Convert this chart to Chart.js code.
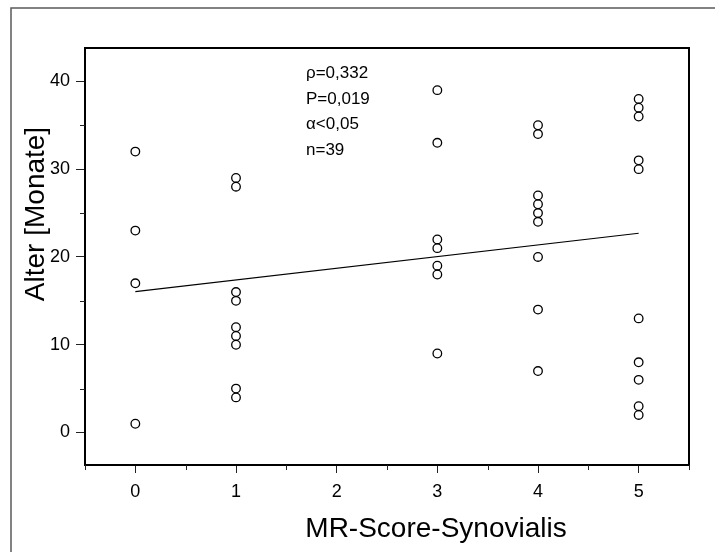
<!DOCTYPE html>
<html>
<head>
<meta charset="utf-8">
<title>Alter vs. MR-Score-Synovialis</title>
<script src="https://cdn.jsdelivr.net/npm/chart.js@4.4.1/dist/chart.umd.min.js"></script>
<style>
  html, body { margin: 0; padding: 0; background: #fff; }
  #wrap { width: 715px; height: 552px; position: relative; }
</style>
</head>
<body>
<div id="wrap"><canvas id="scatterCanvas"></canvas></div>
<script>
// MR score per patient (x) and age in months (y)
const scoreX = [
    0, 0, 0, 0,
    1, 1, 1, 1, 1, 1, 1, 1, 1,
    3, 3, 3, 3, 3, 3, 3,
    4, 4, 4, 4, 4, 4, 4, 4, 4,
    5, 5, 5, 5, 5, 5, 5, 5, 5, 5
];
const ageMonths = [
    32, 23, 17, 1,
    29, 28, 16, 15, 12, 11, 10, 5, 4,
    39, 33, 22, 21, 19, 18, 9,
    35, 34, 27, 26, 25, 24, 20, 14, 7,
    38, 37, 36, 31, 30, 13, 8, 6, 3, 2
];

// regression line end points
const fitX = [0, 5];
const fitY = [16.04, 22.7];

// axis ticks
const xTicks = [0, 1, 2, 3, 4, 5];
const xMinorTicks = [-0.5, 0.5, 1.5, 2.5, 3.5, 4.5, 5.5];
const yTicks = [0, 10, 20, 30, 40];
const yMinorTicks = [5, 15, 25, 35];

const statsLines = ['ρ=0,332', 'P=0,019', 'α<0,05', 'n=39'];

const FONT = '"Liberation Sans", Arial, Helvetica, sans-serif';

// outer frame, plot box, minor ticks, axis titles and the stats block
const decorations = {
    id: 'decorations',
    beforeDraw(chart) {
        const ctx = chart.ctx;
        ctx.save();
        ctx.strokeStyle = '#5a5a5a';
        ctx.lineWidth = 1.5;
        ctx.beginPath();
        ctx.moveTo(11, 560);
        ctx.lineTo(11, 8);
        ctx.lineTo(720, 8);
        ctx.stroke();
        ctx.restore();
    },
    afterDraw(chart) {
        const ctx = chart.ctx;
        const area = chart.chartArea;
        const xs = chart.scales.x;
        const ys = chart.scales.y;
        ctx.save();

        // plot box
        ctx.strokeStyle = '#000';
        ctx.lineWidth = 2;
        ctx.strokeRect(area.left, area.top, area.right - area.left, area.bottom - area.top);

        // minor ticks
        ctx.lineWidth = 1;
        ctx.strokeStyle = '#222';
        ctx.beginPath();
        xMinorTicks.forEach(v => {
            const px = Math.round(xs.getPixelForValue(v)) + 0.5;
            ctx.moveTo(px, area.bottom);
            ctx.lineTo(px, area.bottom + 5);
        });
        yMinorTicks.forEach(v => {
            const py = Math.round(ys.getPixelForValue(v)) + 0.5;
            ctx.moveTo(area.left, py);
            ctx.lineTo(area.left - 5, py);
        });
        ctx.stroke();

        // axis titles
        ctx.fillStyle = '#000';
        ctx.font = '28px ' + FONT;
        ctx.textAlign = 'center';
        ctx.textBaseline = 'alphabetic';
        ctx.fillText('MR-Score-Synovialis', 436, 537);

        ctx.save();
        ctx.translate(43.5, 214);
        ctx.rotate(-Math.PI / 2);
        ctx.fillText('Alter [Monate]', 0, 0);
        ctx.restore();

        // statistics
        ctx.font = '17px ' + FONT;
        ctx.textAlign = 'left';
        statsLines.forEach((line, i) => {
            ctx.fillText(line, 306, 78 + i * 25.6);
        });

        ctx.restore();
    }
};

const canvas = document.getElementById('scatterCanvas');

new Chart(canvas, {
    type: 'scatter',
    data: {
        datasets: [
            {
                label: 'Patienten',
                data: scoreX.map((x, i) => ({ x: x, y: ageMonths[i] })),
                pointStyle: 'circle',
                pointRadius: 4.3,
                pointHoverRadius: 4.3,
                borderColor: '#000',
                borderWidth: 1.3,
                backgroundColor: 'rgba(0,0,0,0)'
            },
            {
                label: 'Regression',
                type: 'line',
                data: fitX.map((x, i) => ({ x: x, y: fitY[i] })),
                borderColor: '#000',
                borderWidth: 1.2,
                pointRadius: 0,
                fill: false,
                tension: 0
            }
        ]
    },
    options: {
        responsive: true,
        maintainAspectRatio: false,
        animation: false,
        devicePixelRatio: 1,
        layout: {
            padding: { left: 0, top: 48, right: 26, bottom: 0 }
        },
        plugins: {
            legend: { display: false },
            tooltip: { enabled: false },
            title: { display: false }
        },
        scales: {
            x: {
                type: 'linear',
                min: -0.5,
                max: 5.5,
                afterBuildTicks: scale => {
                    scale.ticks = xTicks.map(v => ({ value: v }));
                },
                afterFit: scale => { scale.height = 87; },
                grid: {
                    drawOnChartArea: false,
                    drawTicks: true,
                    tickLength: 8,
                    tickColor: '#222',
                    tickWidth: 1
                },
                border: { display: false },
                ticks: {
                    color: '#000',
                    padding: 8,
                    maxRotation: 0,
                    font: { family: FONT, size: 18 },
                    callback: v => String(v)
                }
            },
            y: {
                type: 'linear',
                min: -3.7,
                max: 43.8,
                afterBuildTicks: scale => {
                    scale.ticks = yTicks.map(v => ({ value: v }));
                },
                afterFit: scale => { scale.width = 85; },
                grid: {
                    drawOnChartArea: false,
                    drawTicks: true,
                    tickLength: 9,
                    tickColor: '#222',
                    tickWidth: 1
                },
                border: { display: false },
                ticks: {
                    color: '#000',
                    padding: 6,
                    font: { family: FONT, size: 18 },
                    callback: v => String(v)
                }
            }
        }
    },
    plugins: [decorations]
});
</script>
</body>
</html>
